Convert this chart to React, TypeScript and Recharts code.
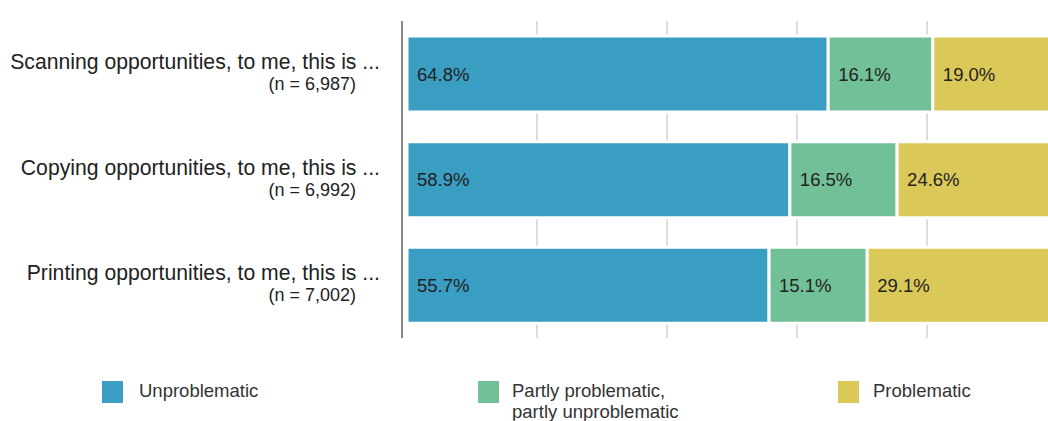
import { BarChart, Bar, XAxis, YAxis, CartesianGrid, LabelList } from 'recharts';

const categories = [
  'Scanning opportunities, to me, this is ...',
  'Copying opportunities, to me, this is ...',
  'Printing opportunities, to me, this is ...',
];
const sampleSizes = ['(n = 6,987)', '(n = 6,992)', '(n = 7,002)'];
const unproblematic = [64.8, 58.9, 55.7];
const partly = [16.1, 16.5, 15.1];
const problematic = [19.0, 24.6, 29.1];
const gridTicks = [20, 40, 60, 80];

const series = [
  { key: 'unproblematic', name: 'Unproblematic', color: '#399ec2' },
  { key: 'partly', name: 'Partly problematic,\npartly unproblematic', color: '#71c097' },
  { key: 'problematic', name: 'Problematic', color: '#dac859' },
];

const data = categories.map((c, i) => ({
  label: c,
  n: sampleSizes[i],
  unproblematic: unproblematic[i],
  partly: partly[i],
  problematic: problematic[i],
}));

const FONT = '"Liberation Sans", Arial, sans-serif';

const CategoryTick = ({ x, y, index }: any) => (
  <g>
    <text x={x - 22} y={y - 5} textAnchor="end" fontSize={21.2} fill="#222" fontFamily={FONT}>
      {categories[index]}
    </text>
    <text x={x - 46} y={y + 16} textAnchor="end" fontSize={18} fill="#222" fontFamily={FONT}>
      {sampleSizes[index]}
    </text>
  </g>
);

// legend swatch / text left edges
const legendX = [102, 478, 838];
const legendTextX = [139, 512, 873];

export default function App() {
  return (
    <div style={{ position: 'absolute', left: 0, top: 0, width: 1048, height: 421, overflow: 'hidden', background: '#fff' }}>
      <BarChart
        width={1060}
        height={360}
        data={data}
        layout="vertical"
        margin={{ top: 21, right: 3, left: 0, bottom: 22 }}
        barSize={76}
      >
        <CartesianGrid horizontal={false} stroke="#dddddd" strokeWidth={2} />
        <XAxis type="number" domain={[-0.77, 100]} ticks={gridTicks} hide allowDataOverflow />
        <YAxis
          type="category"
          dataKey="label"
          width={402}
          tickLine={false}
          tickSize={0}
          tickMargin={0}
          axisLine={{ stroke: '#888', strokeWidth: 2 }}
          tick={<CategoryTick />}
        />
        {series.map((s) => (
          <Bar
            key={s.key}
            dataKey={s.key}
            stackId="a"
            fill={s.color}
            stroke="#fff"
            strokeWidth={3}
            isAnimationActive={false}
          >
            <LabelList
              dataKey={s.key}
              position="insideLeft"
              offset={10}
              fill="#222"
              fontSize={18.5}
              fontFamily={FONT}
              formatter={(v: any) => `${Number(v).toFixed(1)}%`}
            />
          </Bar>
        ))}
      </BarChart>
      {series.map((s, i) => (
        <div key={s.key}>
          <div style={{ position: 'absolute', left: legendX[i], top: 381, width: 21, height: 22, background: s.color }} />
          <div
            style={{
              position: 'absolute',
              left: legendTextX[i],
              top: 380,
              fontFamily: FONT,
              fontSize: 18.5,
              color: '#333',
              lineHeight: '21px',
              whiteSpace: 'pre',
            }}
          >
            {s.name}
          </div>
        </div>
      ))}
    </div>
  );
}
